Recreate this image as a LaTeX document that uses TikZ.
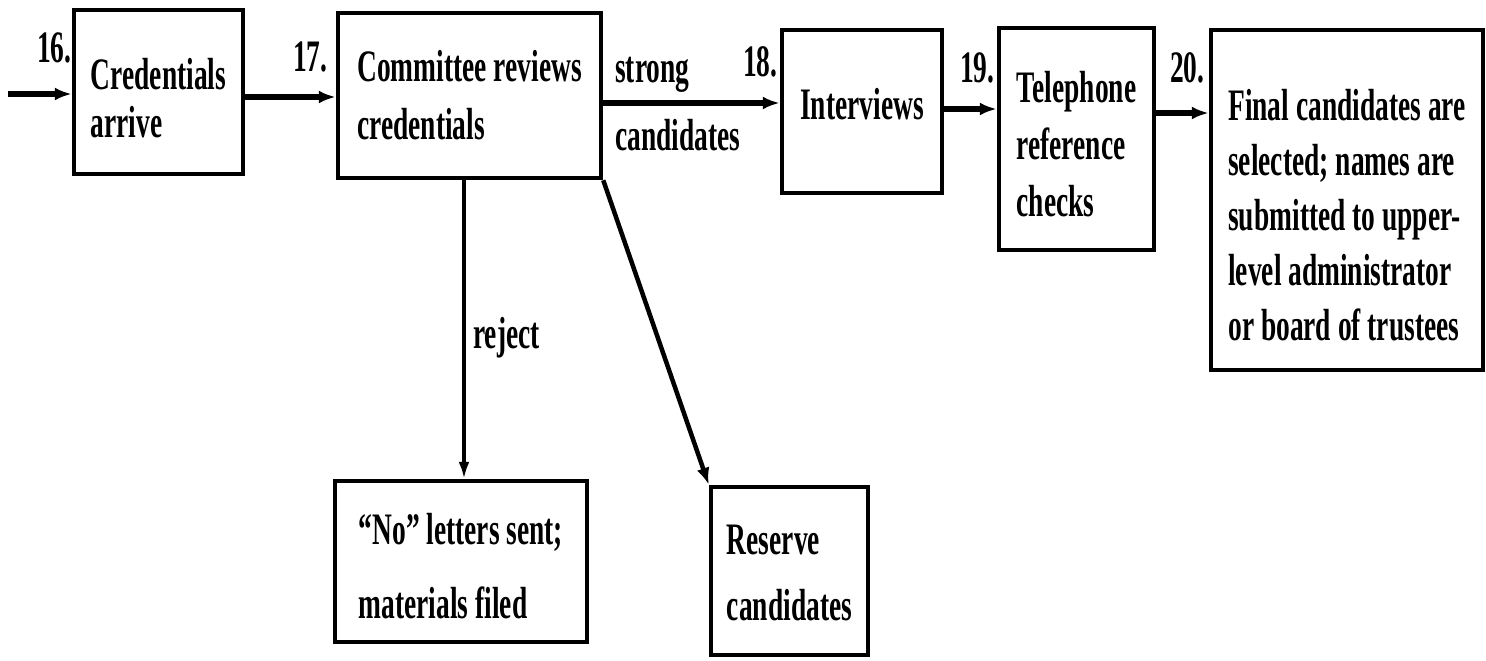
\documentclass[tikz,border=0pt]{standalone}
\usepackage{fontspec}
\setmainfont{Liberation Serif}[FakeStretch=0.61]
\usetikzlibrary{arrows.meta}
\newcommand{\fs}[1]{\fontsize{45}{#1}\selectfont\bfseries}
\begin{document}
\begin{tikzpicture}[x=1pt,y=-1pt,
  frame/.style={draw, line width=4.5pt, inner sep=0pt},
  txt/.style={inner sep=0pt, align=left},
  lbl/.style={inner sep=0pt, anchor=base west, font=\fs{50}},
  flow/.style={line width=5.5pt, -{Latex[length=17pt,width=13pt]}},
  thinflow/.style={line width=3.2pt, -{Latex[length=17pt,width=11pt]}},
]
\useasboundingbox (0,0) rectangle (1486,661);

% frames
\node[frame, minimum width=169pt, minimum height=164pt] (b1) at (158.5,92) {};
\node[frame, minimum width=263pt, minimum height=165pt] (b2) at (469.5,95.5) {};
\node[frame, minimum width=160pt, minimum height=163pt] (b3) at (862,111.5) {};
\node[frame, minimum width=155pt, minimum height=222pt] (b4) at (1076.5,139) {};
\node[frame, minimum width=272pt, minimum height=340pt] (b5) at (1347,200) {};
\node[frame, minimum width=252pt, minimum height=161pt] (nl) at (461,561.5) {};
\node[frame, minimum width=157pt, minimum height=168pt] (rc) at (789.5,571) {};

% texts
\node[txt, font=\fs{48}] (t1) at ([yshift=-6pt]b1.center) {Credentials\\arrive};
\node[txt, font=\fs{58}] (t2) at (b2.center) {Committee reviews\\credentials};
\node[txt, font=\fs{50}] (t3) at ([yshift=7pt]b3.center) {Interviews};
\node[txt, font=\fs{57}] (t4) at ([yshift=-5pt]b4.center) {Telephone\\reference\\checks};
\node[txt, font=\fs{55}] (t5) at ([yshift=-15pt]b5.center) {Final candidates are\\selected; names are\\submitted to upper-\\level administrator\\or board of trustees};
\node[txt, font=\fs{74}] (t6) at ([yshift=-5pt]nl.center) {``No'' letters sent;\\materials filed};
\node[txt, font=\fs{66}] (t7) at ([yshift=-2pt]rc.center) {Reserve\\candidates};

% labels
\node[lbl] (l16) at (37,63) {16.};
\node[lbl] (l17) at (293,72) {17.};
\node[lbl] (l18) at (743,77) {18.};
\node[lbl] (l19) at (960,82) {19.};
\node[lbl] (l20) at (1170,83) {20.};
\node[lbl] (ls) at (615,82) {strong};
\node[lbl] (lc) at (615,150) {candidates};
\node[lbl] (lr) at (473,348) {reject};

% connectors
\coordinate (start) at (8,94);
\draw[flow] (start) -- (start -| b1.west);
\draw[flow] ([yshift=-5pt]b1.east) -- ([yshift=-5pt]b1.east -| b2.west);
\draw[flow] ([yshift=-7.5pt]b2.east) -- ([yshift=-7.5pt]b2.east -| b3.west);
\draw[flow] ([yshift=2.5pt]b3.east) -- ([yshift=2.5pt]b3.east -| b4.west);
\draw[flow] ([yshift=26pt]b4.east) -- ([yshift=26pt]b4.east -| b5.west);
\draw[thinflow] ([xshift=3pt]nl.north |- b2.south) -- ([xshift=3pt]nl.north);
\draw[flow, line width=4.5pt] (b2.south east) -- (rc.north west);
\end{tikzpicture}
\end{document}
